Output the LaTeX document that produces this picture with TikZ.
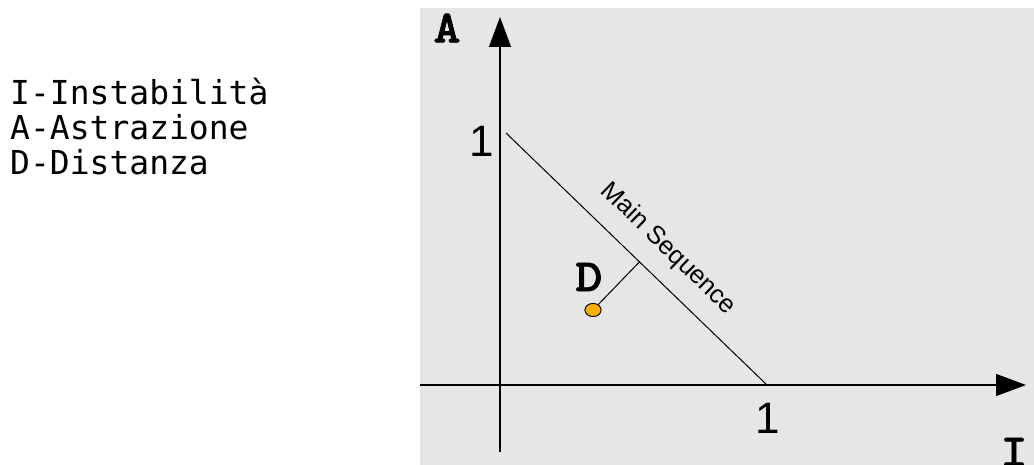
\documentclass[tikz,border=0pt]{standalone}
\usepackage{fontspec}
\setmainfont{Liberation Sans}
\setmonofont{DejaVu Sans Mono}
\newfontfamily\arialfont{Liberation Sans}
\newfontfamily\courfont{lmmonolt10-bold.otf}[FakeBold=1.5,FakeStretch=1.12]
\usetikzlibrary{arrows.meta,calc,shapes.geometric}
\definecolor{bggray}{HTML}{E6E6E6}
\definecolor{dotorange}{HTML}{FFB000}
\tikzset{
  axisline/.style={line width=1.3pt,-{Triangle[length=30pt,width=22pt]}},
  thinline/.style={line width=1pt},
  onelabel/.style={inner sep=0pt,font=\arialfont\fontsize{44}{50}\selectfont},
  axislabel/.style={inner sep=0pt,font=\courfont\fontsize{46}{50}\selectfont},
  legendtext/.style={inner sep=0pt,anchor=base west,font=\ttfamily\fontsize{33}{35}\selectfont},
  mslabel/.style={inner sep=0pt,font=\arialfont\fontsize{25.5}{27}\selectfont,rotate=-44.1},
  dotstyle/.style={ellipse,draw=black,line width=0.8pt,fill=dotorange,minimum width=16pt,minimum height=13pt,inner sep=0pt}
}
\begin{document}
\begin{tikzpicture}[x=1pt,y=-1pt]
\useasboundingbox (0,0) rectangle (1034,465);
\fill[bggray] (420,8) rectangle (1034,465);
% legend
\node[legendtext] (l1) at (10,105) {I-Instabilità};
\node[legendtext] (l2) at (10,140) {A-Astrazione};
\node[legendtext] (l3) at (10,175) {D-Distanza};
% axes
\coordinate (ybot) at (500,452);
\coordinate (ytop) at (500,17);
\coordinate (xleft) at (420,385);
\coordinate (xright) at (1026,385);
\draw[axisline] (ybot) -- (ytop);
\draw[axisline] (xleft) -- (xright);
% main sequence
\coordinate (ms1) at (506,133);
\coordinate (ms2) at (767,385);
\draw[thinline] (ms1) -- (ms2);
\node[mslabel] (mslab) at (668,249) {Main Sequence};
% labels
\node[onelabel] (oneA) at (482,141) {1};
\node[onelabel] (oneI) at (768,418) {1};
\node[axislabel] (labA) at (447,28) {A};
\node[axislabel] (labI) at (1014,452) {I};
\node[axislabel] (labD) at (589,277) {D};
% point
\node[dotstyle] (pt) at (593,310) {};
\coordinate (foot) at ($(ms1)!(pt)!(ms2)$);
\draw[thinline] (pt.center) -- (foot);
\node[dotstyle] at (593,310) {};
\end{tikzpicture}
\end{document}
